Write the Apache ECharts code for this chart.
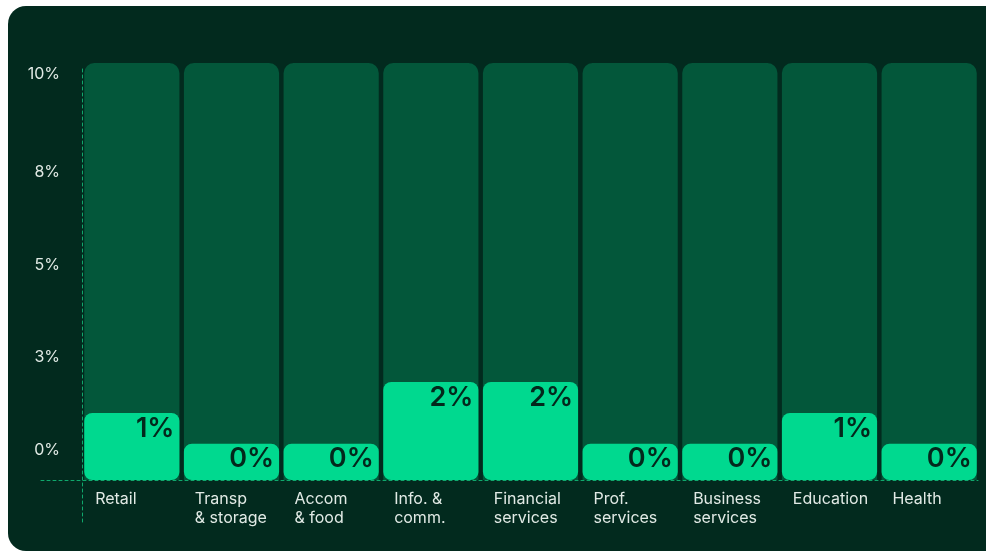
<!DOCTYPE html>
<html>
<head>
<meta charset="utf-8">
<script src="https://cdn.jsdelivr.net/npm/echarts@6/dist/echarts.min.js"></script>
<style>
  html, body { margin: 0; padding: 0; background: #ffffff; }
  #chart { width: 986px; height: 553px; }
</style>
</head>
<body>
<div id="chart"></div>
<script>
// Sector categories (line breaks are part of the label text)
const categories = [
  'Retail', 'Transp\n& storage', 'Accom\n& food', 'Info. &\ncomm.',
  'Financial\nservices', 'Prof.\nservices', 'Business\nservices', 'Education', 'Health'
];
// Share per sector, in percent
const shares = [1.0, 0.17, 0.17, 1.84, 1.84, 0.17, 0.17, 1.0, 0.17];
// Value-axis label positions (percent)
const yTicks = [0, 2.5, 5, 7.5, 10];

// Columns start a little below zero and the track reaches a little above 10%
const BASE = -0.81;
const AXIS_MAX = 10.46;
const BAR_RATIO = 0.955;

const C = {
  card: '#022a1e',
  track: '#03573a',
  fill: '#00d98f',
  ink: '#03281c',
  text: '#e1eae5',
  guide: '#0fa86c'
};

function column(api, fill, radius, text) {
  const i = api.value(0);
  const top = api.coord([i, api.value(1)]);
  const bottom = api.coord([i, BASE]);
  const w = api.size([1, 0])[0] * BAR_RATIO;
  const el = {
    type: 'rect',
    shape: { x: top[0] - w / 2, y: top[1], width: w, height: bottom[1] - top[1], r: radius },
    style: { fill: fill }
  };
  if (text) {
    el.textContent = {
      style: { text: text, fill: C.ink, font: '600 27px Inter' }
    };
    el.textConfig = { position: 'insideTopRight', distance: 5, offset: [0, -3] };
  }
  return el;
}

const chart = echarts.init(document.getElementById('chart'));
const dash = { type: [3, 3], color: C.guide, width: 1 };

chart.setOption({
  backgroundColor: '#ffffff',
  animation: false,
  graphic: [{
    type: 'rect', silent: true, z: -10,
    shape: { x: 8, y: 6, width: 1010, height: 545, r: 18 },
    style: { fill: C.card }
  }],
  grid: [
    { left: 82, right: 7, top: 63, bottom: 73 },     // columns
    { left: 82, right: 7, top: 66, bottom: 31 },     // vertical guide
    { left: 41, right: 8, top: 63, bottom: 73 },     // baseline
    { left: 45.3, right: 43.7, top: 63, bottom: 73 } // category labels
  ],
  xAxis: [
    { gridIndex: 0, type: 'category', data: categories,
      axisLine: { show: false }, axisTick: { show: false }, axisLabel: { show: false } },
    { gridIndex: 1, type: 'value', show: false },
    { gridIndex: 2, type: 'value',
      axisLine: { show: true, onZero: false, lineStyle: dash },
      axisTick: { show: false }, axisLabel: { show: false }, splitLine: { show: false } },
    { gridIndex: 3, type: 'category', data: categories,
      axisLine: { show: false }, axisTick: { show: false },
      axisLabel: {
        interval: 0, align: 'left', margin: 10,
        color: C.text, fontFamily: 'Inter', fontSize: 16, lineHeight: 19
      } }
  ],
  yAxis: [
    { gridIndex: 0, type: 'value', min: BASE, max: AXIS_MAX,
      axisLine: { show: false }, axisTick: { show: false }, splitLine: { show: false },
      axisLabel: {
        customValues: yTicks,
        margin: 22,
        color: C.text, fontFamily: 'Inter', fontSize: 16,
        formatter: function (v) {
          const s = Math.round(v) + '%';
          return v === 10 ? '{t|' + s + '}' : s;
        },
        rich: { t: { color: C.text, fontFamily: 'Inter', fontSize: 16, padding: [0, 0, 12, 0] } }
      } },
    { gridIndex: 1, type: 'value',
      axisLine: { show: true, onZero: false, lineStyle: dash },
      axisTick: { show: false }, axisLabel: { show: false }, splitLine: { show: false } },
    { gridIndex: 2, type: 'value', show: false },
    { gridIndex: 3, type: 'value', show: false }
  ],
  series: [
    {
      type: 'custom', xAxisIndex: 0, yAxisIndex: 0, z: 1, silent: true,
      data: categories.map(function (c, i) { return [i, AXIS_MAX]; }),
      renderItem: function (p, api) { return column(api, C.track, [10, 10, 0, 0]); }
    },
    {
      type: 'custom', xAxisIndex: 0, yAxisIndex: 0, z: 2,
      data: shares.map(function (v, i) { return [i, v]; }),
      renderItem: function (p, api) {
        return column(api, C.fill, 8, Math.round(api.value(1)) + '%');
      }
    }
  ]
});
</script>
</body>
</html>
